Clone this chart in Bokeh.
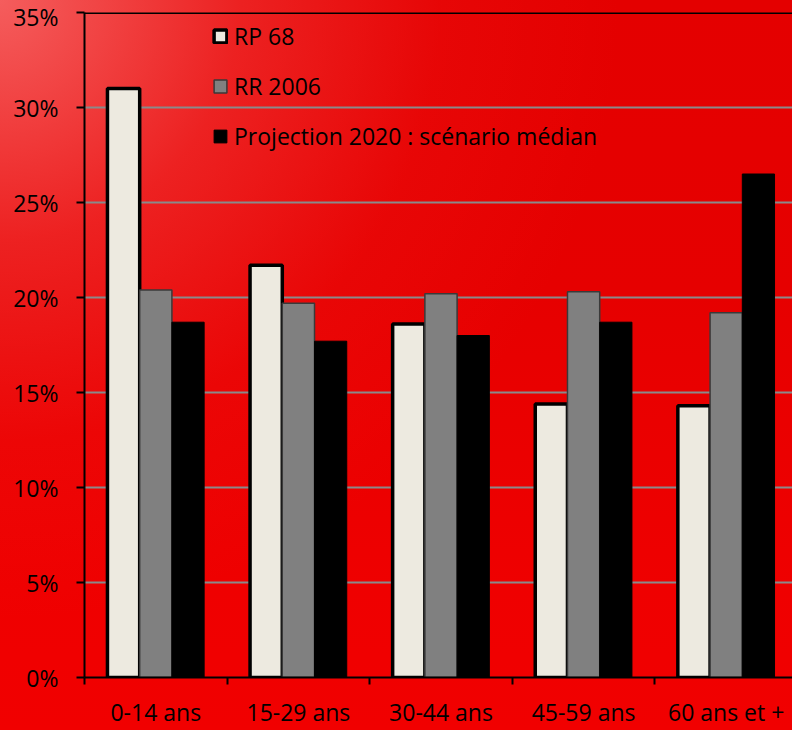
from bokeh.plotting import figure
from bokeh.models import (Range1d, FixedTicker, PrintfTickFormatter, Span,
                          Legend, LegendItem, ColumnDataSource)
from bokeh.embed import file_html
from bokeh.resources import INLINE

categories = ["0-14 ans", "15-29 ans", "30-44 ans", "45-59 ans", "60 ans et +"]
series_names = ["RP 68", "RR 2006", "Projection 2020 : scénario médian"]
rp68 = [31.0, 21.7, 18.6, 14.4, 14.3]
rr2006 = [20.4, 19.7, 20.2, 20.3, 19.2]
proj2020 = [18.7, 17.7, 18.0, 18.7, 26.5]
y_ticks = [0, 5, 10, 15, 20, 25, 30, 35]

FONT = "Open Sans"
FS = "23px"

p = figure(width=792, height=730, output_backend="svg", toolbar_location=None,
           x_range=Range1d(0, 4.965), y_range=Range1d(0, 35),
           min_border_left=84, min_border_right=0, min_border_top=12,
           min_border_bottom=53)
p.border_fill_color = None
p.background_fill_color = None
p.outline_line_color = None
p.styles = {"background": (
    "radial-gradient(circle at 0px 0px, rgba(255,150,150,0.62) 0px, "
    "rgba(255,110,110,0.30) 240px, rgba(255,60,60,0.10) 440px, rgba(255,0,0,0) 620px), "
    "linear-gradient(to bottom, #e40000 0%, #e60000 40%, #ef0000 80%, #f10000 100%)")}

bar_w = 0.226
offsets = [-bar_w, 0.0, bar_w]
xs = [i + 0.5 for i in range(len(categories))]

styles = [
    dict(fill_color="#edeae0", line_color="black", line_width=3.5),
    dict(fill_color="#808080", line_color="#3a3a3a", line_width=1.5),
    dict(fill_color="#000000", line_color="#000000", line_width=1),
]
renderers = []
for vals, off, st in zip([rp68, rr2006, proj2020], offsets, styles):
    src = ColumnDataSource(dict(x=[x + off for x in xs], top=vals))
    r = p.vbar(x="x", top="top", bottom=0, width=bar_w, source=src, **st)
    renderers.append(r)

# Axes
xa = p.xaxis[0]
xa.ticker = FixedTicker(ticks=xs, minor_ticks=list(range(len(categories) + 1)))
xa.major_label_overrides = {x: c for x, c in zip(xs, categories)}
xa.major_tick_in = 0
xa.major_tick_out = 0
xa.minor_tick_in = 0
xa.minor_tick_out = 7
xa.minor_tick_line_color = "black"
xa.minor_tick_line_width = 2
xa.axis_line_color = "black"
xa.axis_line_width = 2
xa.major_label_text_font = FONT
xa.major_label_text_font_size = FS
xa.major_label_text_color = "black"
xa.major_label_standoff = 11

ya = p.yaxis[0]
ya.ticker = FixedTicker(ticks=y_ticks, minor_ticks=[])
ya.formatter = PrintfTickFormatter(format="%d%%")
ya.major_tick_in = 0
ya.major_tick_out = 8
ya.major_tick_line_color = "black"
ya.major_tick_line_width = 2
ya.axis_line_color = "black"
ya.axis_line_width = 2
ya.major_label_text_font = FONT
ya.major_label_text_font_size = FS
ya.major_label_text_color = "black"
ya.major_label_standoff = 18

p.xgrid.grid_line_color = None
p.ygrid.grid_line_color = "#8a8a8a"
p.ygrid.grid_line_width = 2

p.add_layout(Span(location=35, dimension="width", line_color="black", line_width=3))

legend = Legend(items=[LegendItem(label=n, renderers=[r]) for n, r in zip(series_names, renderers)],
                location=(128, 525), orientation="vertical",
                glyph_width=16, glyph_height=16, label_height=31, spacing=18,
                label_standoff=6, padding=0, margin=0,
                border_line_color=None, background_fill_alpha=0,
                label_text_font=FONT, label_text_font_size=FS,
                label_text_color="black")
p.add_layout(legend, "center")

open("out.html", "w").write(file_html(p, INLINE))
